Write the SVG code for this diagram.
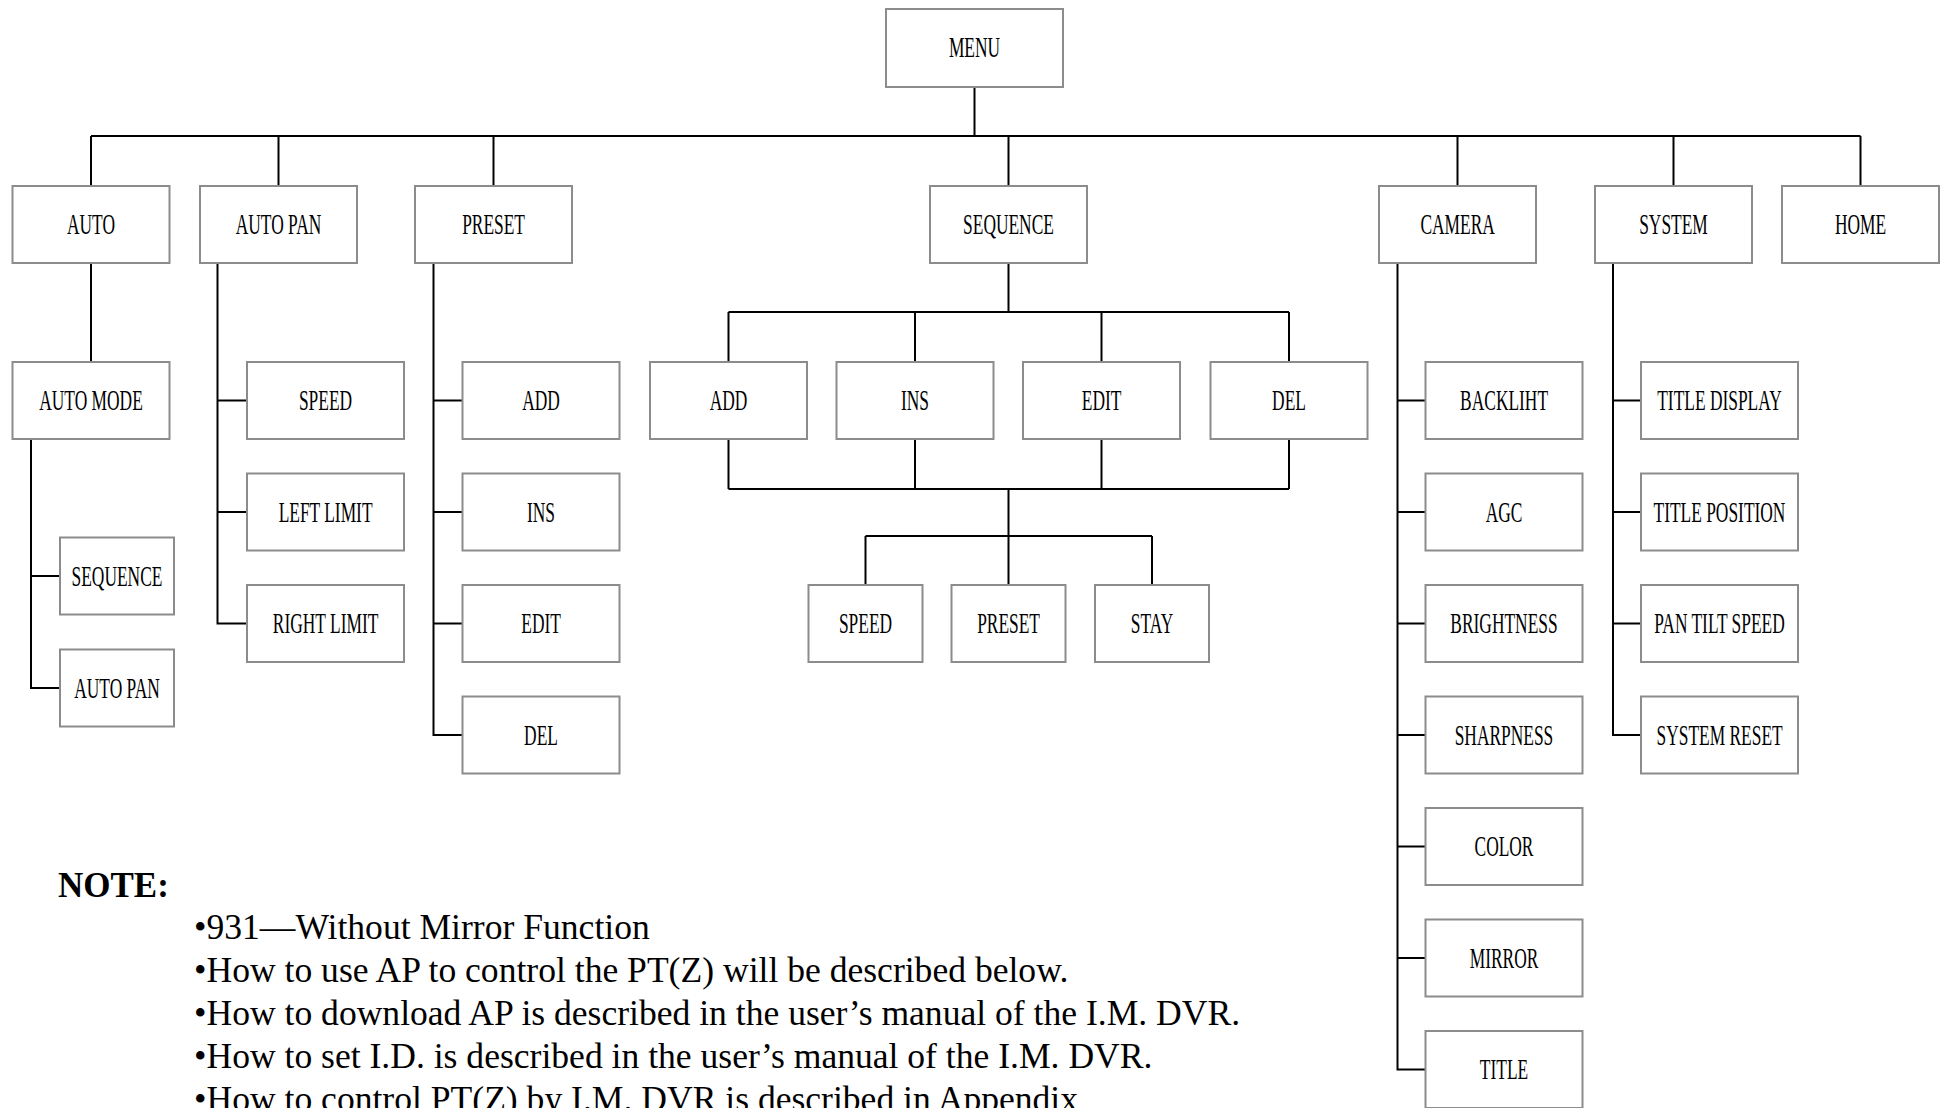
<svg xmlns="http://www.w3.org/2000/svg" width="1942" height="1108" viewBox="0 0 1942 1108">
<style>
.box{fill:#fff;stroke:#8c8c8c;stroke-width:2}
.lbl{font-family:"Liberation Serif","Times New Roman",serif;font-size:29px;fill:#000;text-anchor:middle;transform-box:fill-box;transform-origin:center;transform:scaleX(0.6)}
.conn{fill:none;stroke:#000;stroke-width:2}
.note{font-family:"Liberation Serif","Times New Roman",serif;font-size:35.6px;fill:#000}
.noteh{font-family:"Liberation Serif","Times New Roman",serif;font-size:35px;font-weight:bold;fill:#000}
</style>
<rect width="1942" height="1108" fill="#fff"/>
<g id="connectors" class="conn">
<path d="M974.5 87V136M91 136H1860.5M91 136V186M278.5 136V186M493.5 136V186M1008.5 136V186M1457.5 136V186M1673.5 136V186M1860.5 136V186"/>
<path d="M91 263V362M31 439V688H60M31 576H60"/>
<path d="M217.5 263V623.5H247M217.5 400.5H247M217.5 512H247"/>
<path d="M433.5 263V735H462.5M433.5 400.5H462.5M433.5 512H462.5M433.5 623.5H462.5"/>
<path d="M1008.5 263V312M728.5 312H1289M728.5 312V362M915 312V362M1101.5 312V362M1289 312V362"/>
<path d="M728.5 439V489M915 439V489M1101.5 439V489M1289 439V489M728.5 489H1289M1008.5 489V536M865.5 536H1152M865.5 536V585M1008.5 536V585M1152 536V585"/>
<path d="M1397.5 263V1069.5H1425.5M1397.5 400.5H1425.5M1397.5 512H1425.5M1397.5 623.5H1425.5M1397.5 735H1425.5M1397.5 846.5H1425.5M1397.5 958H1425.5"/>
<path d="M1613 263V735H1641M1613 400.5H1641M1613 512H1641M1613 623.5H1641"/>
</g>
<g id="n-menu"><rect class="box" x="886" y="9" width="177" height="78"/><text class="lbl" x="974.5" y="57">MENU</text></g>
<g id="n-auto"><rect class="box" x="12.5" y="186" width="157" height="77"/><text class="lbl" x="91" y="234.5">AUTO</text></g>
<g id="n-autopan"><rect class="box" x="200" y="186" width="157" height="77"/><text class="lbl" x="278.5" y="234.5">AUTO PAN</text></g>
<g id="n-preset"><rect class="box" x="415" y="186" width="157" height="77"/><text class="lbl" x="493.5" y="234.5">PRESET</text></g>
<g id="n-sequence"><rect class="box" x="930" y="186" width="157" height="77"/><text class="lbl" x="1008.5" y="234.5">SEQUENCE</text></g>
<g id="n-camera"><rect class="box" x="1379" y="186" width="157" height="77"/><text class="lbl" x="1457.5" y="234.5">CAMERA</text></g>
<g id="n-system"><rect class="box" x="1595" y="186" width="157" height="77"/><text class="lbl" x="1673.5" y="234.5">SYSTEM</text></g>
<g id="n-home"><rect class="box" x="1782" y="186" width="157" height="77"/><text class="lbl" x="1860.5" y="234.5">HOME</text></g>
<g id="n-automode"><rect class="box" x="12.5" y="362" width="157" height="77"/><text class="lbl" x="91" y="410.5">AUTO MODE</text></g>
<g id="n-am-sequence"><rect class="box" x="60" y="537.5" width="114" height="77"/><text class="lbl" x="117" y="586">SEQUENCE</text></g>
<g id="n-am-autopan"><rect class="box" x="60" y="649.5" width="114" height="77"/><text class="lbl" x="117" y="698">AUTO PAN</text></g>
<g id="n-ap-speed"><rect class="box" x="247" y="362" width="157" height="77"/><text class="lbl" x="325.5" y="410.5">SPEED</text></g>
<g id="n-ap-left"><rect class="box" x="247" y="473.5" width="157" height="77"/><text class="lbl" x="325.5" y="522">LEFT LIMIT</text></g>
<g id="n-ap-right"><rect class="box" x="247" y="585" width="157" height="77"/><text class="lbl" x="325.5" y="633.5">RIGHT LIMIT</text></g>
<g id="n-pr-add"><rect class="box" x="462.5" y="362" width="157" height="77"/><text class="lbl" x="541" y="410.5">ADD</text></g>
<g id="n-pr-ins"><rect class="box" x="462.5" y="473.5" width="157" height="77"/><text class="lbl" x="541" y="522">INS</text></g>
<g id="n-pr-edit"><rect class="box" x="462.5" y="585" width="157" height="77"/><text class="lbl" x="541" y="633.5">EDIT</text></g>
<g id="n-pr-del"><rect class="box" x="462.5" y="696.5" width="157" height="77"/><text class="lbl" x="541" y="745">DEL</text></g>
<g id="n-sq-add"><rect class="box" x="650" y="362" width="157" height="77"/><text class="lbl" x="728.5" y="410.5">ADD</text></g>
<g id="n-sq-ins"><rect class="box" x="836.5" y="362" width="157" height="77"/><text class="lbl" x="915" y="410.5">INS</text></g>
<g id="n-sq-edit"><rect class="box" x="1023" y="362" width="157" height="77"/><text class="lbl" x="1101.5" y="410.5">EDIT</text></g>
<g id="n-sq-del"><rect class="box" x="1210.5" y="362" width="157" height="77"/><text class="lbl" x="1289" y="410.5">DEL</text></g>
<g id="n-sq-speed"><rect class="box" x="808.5" y="585" width="114" height="77"/><text class="lbl" x="865.5" y="633.5">SPEED</text></g>
<g id="n-sq-preset"><rect class="box" x="951.5" y="585" width="114" height="77"/><text class="lbl" x="1008.5" y="633.5">PRESET</text></g>
<g id="n-sq-stay"><rect class="box" x="1095" y="585" width="114" height="77"/><text class="lbl" x="1152" y="633.5">STAY</text></g>
<g id="n-cam-backlight"><rect class="box" x="1425.5" y="362" width="157" height="77"/><text class="lbl" x="1504" y="410.5">BACKLIHT</text></g>
<g id="n-cam-agc"><rect class="box" x="1425.5" y="473.5" width="157" height="77"/><text class="lbl" x="1504" y="522">AGC</text></g>
<g id="n-cam-brightness"><rect class="box" x="1425.5" y="585" width="157" height="77"/><text class="lbl" x="1504" y="633.5">BRIGHTNESS</text></g>
<g id="n-cam-sharpness"><rect class="box" x="1425.5" y="696.5" width="157" height="77"/><text class="lbl" x="1504" y="745">SHARPNESS</text></g>
<g id="n-cam-color"><rect class="box" x="1425.5" y="808" width="157" height="77"/><text class="lbl" x="1504" y="856.5">COLOR</text></g>
<g id="n-cam-mirror"><rect class="box" x="1425.5" y="919.5" width="157" height="77"/><text class="lbl" x="1504" y="968">MIRROR</text></g>
<g id="n-cam-title"><rect class="box" x="1425.5" y="1031" width="157" height="77"/><text class="lbl" x="1504" y="1079.5">TITLE</text></g>
<g id="n-sys-titledisp"><rect class="box" x="1641" y="362" width="157" height="77"/><text class="lbl" x="1719.5" y="410.5">TITLE DISPLAY</text></g>
<g id="n-sys-titlepos"><rect class="box" x="1641" y="473.5" width="157" height="77"/><text class="lbl" x="1719.5" y="522">TITLE POSITION</text></g>
<g id="n-sys-pantilt"><rect class="box" x="1641" y="585" width="157" height="77"/><text class="lbl" x="1719.5" y="633.5">PAN TILT SPEED</text></g>
<g id="n-sys-reset"><rect class="box" x="1641" y="696.5" width="157" height="77"/><text class="lbl" x="1719.5" y="745">SYSTEM RESET</text></g>
<g id="note">
<text class="noteh" x="58" y="897">NOTE:</text>
<text class="note" x="194" y="939">•931—Without Mirror Function</text>
<text class="note" x="194" y="982">•How to use AP to control the PT(Z) will be described below.</text>
<text class="note" x="194" y="1025">•How to download AP is described in the user’s manual of the I.M. DVR.</text>
<text class="note" x="194" y="1068">•How to set I.D. is described in the user’s manual of the I.M. DVR.</text>
<text class="note" x="194" y="1111">•How to control PT(Z) by I.M. DVR is described in Appendix</text>
</g>
</svg>
